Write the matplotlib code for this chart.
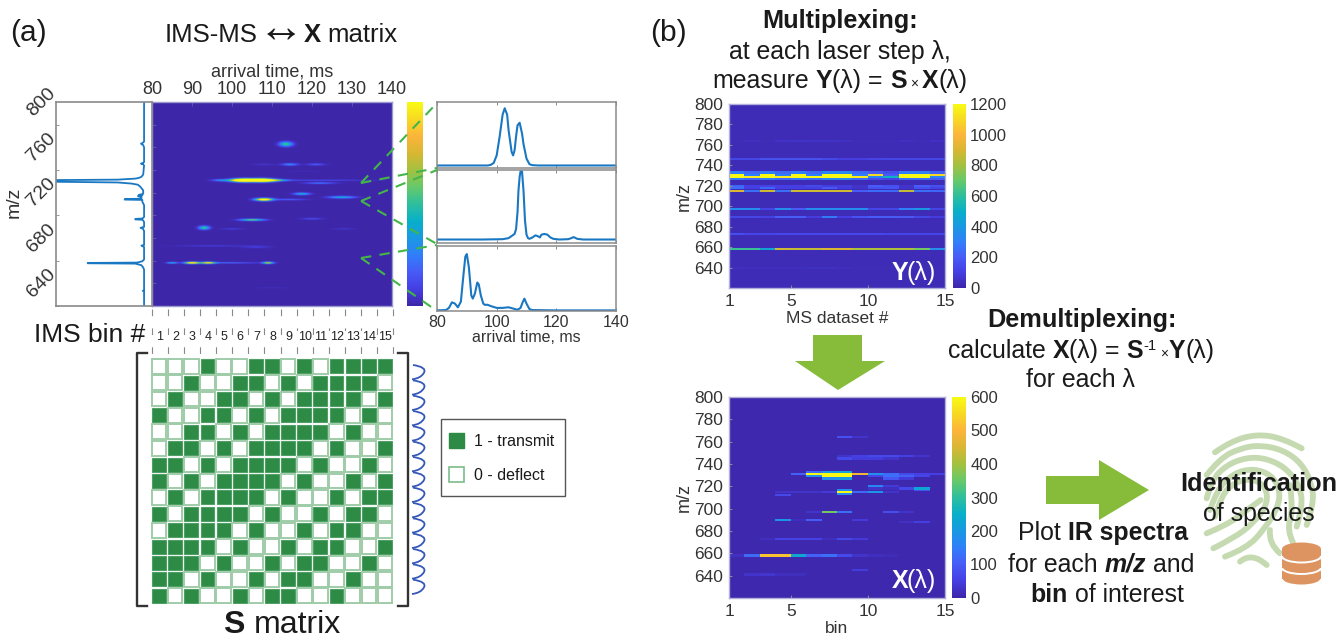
import numpy as np
import matplotlib
matplotlib.use('Agg')
import matplotlib.pyplot as plt
from matplotlib.colors import LinearSegmentedColormap
from matplotlib.patches import Rectangle, Polygon, PathPatch, Ellipse
from matplotlib.path import Path
from matplotlib.transforms import ScaledTranslation

plt.rcParams['font.family'] = ['Liberation Sans', 'DejaVu Sans']

W, H = 1338, 639

# ---------- data ----------
S_matrix = [
    [0,0,0,1,0,0,1,1,0,1,0,1,1,1,1],
    [0,0,1,0,0,1,1,0,1,0,1,1,1,1,0],
    [0,1,0,0,1,1,0,1,0,1,1,1,1,0,1],
    [1,0,0,1,1,0,1,0,1,1,1,1,0,1,0],
    [0,0,1,1,0,1,0,1,1,1,1,0,1,0,0],
    [0,1,1,0,1,0,1,1,1,1,0,1,0,0,1],
    [1,1,0,1,0,1,1,1,1,0,1,0,0,1,0],
    [1,0,1,0,1,1,1,1,0,1,0,0,1,0,1],
    [0,1,0,1,1,1,1,0,1,0,0,1,0,1,1],
    [1,0,1,1,1,1,0,1,0,0,1,0,1,1,0],
    [0,1,1,1,1,0,1,0,0,1,0,1,1,0,0],
    [1,1,1,1,0,1,0,0,1,0,1,1,0,0,1],
    [1,1,1,0,1,0,0,1,0,1,1,0,0,1,0],
    [1,1,0,1,0,0,1,0,1,1,0,0,1,0,0],
    [1,0,1,0,0,1,0,1,1,0,0,1,0,0,0],
]
bin_labels = [str(i) for i in range(1, 16)]

# IMS-MS map peaks: arrival time, m/z, amplitude, time width, m/z width
ims_peaks = [
    (103,731,2.1,2.0,.95),(107.5,731,2.1,1.9,.95),(97.5,731,.35,1.6,.6),(111,731,.55,2.0,.6),
    (122,731,.13,9,.4),(122,728.5,.25,2.5,.5),(113.5,763,.55,1.1,1.4),(114.5,745,.30,1.3,.7),
    (121,745,.18,1.5,.6),(108,745,.06,2,.5),(117.5,719,.45,1.3,.7),(127.5,716,.42,2.2,.7),
    (108,714,1.3,1.4,.8),(114,714,.18,3,.5),(105,696,.65,2,.6),(120,697,.14,1.8,.5),
    (93,689,.55,.9,1.1),(100,688,.09,1.8,.5),(128,688,.06,2,.5),(95,673,.09,6,.4),
    (106,672,.08,2.5,.7),(85,658,.45,.9,.5),(90,658,1.25,1.2,.6),(94,658,.95,1.2,.6),
    (99,658,.22,5,.4),(109,658,.8,.9,.6),(118,739,.02,3,.5),(110,636,.03,3,.5),
]

# Summed m/z profile (left panel): m/z, relative intensity
prof_pts = [(620,0),(633,0),(633.4,.015),(633.8,0),(652,0),(654,.01),(656,.03),(657.4,.10),(657.7,.64),(658.0,.64),(658.3,.08),
            (659.5,.02),(661,0),(672,0),(672.7,.015),(673.3,.03),(673.8,0),(686,0),(688,.01),(689,.04),(689.8,0),
            (694,0),(695.5,.01),(696.1,.02),(696.4,.10),(696.8,.10),(697.2,.02),(698.5,0),(709,0),(712,.02),(713.6,.02),(713.9,.22),
            (714.3,.22),(714.7,.03),(716,.03),(717,.07),(717.5,.02),(718,.06),(719,.01),(722,.01),(725,.04),(727,.07),(728,.14),
            (729,.30),(729.8,1.2),(731.0,1.2),(731.5,.30),(732.4,.10),(733,.06),(734,.03),(736,.01),(744,0),(745,.01),(745.6,.035),
            (746.3,.01),(747,0),(760,0),(762,.01),(763.2,.035),(764,.015),(765,0),(800,0)]
prof_mz = [p[0] for p in prof_pts]
prof_val = [p[1] for p in prof_pts]

# Right panels: arrival time and normalised intensity
tr_t1 = [80,90,97,98,99,100,101,102,102.7,103.5,104,105,105.5,106,106.5,107,107.7,108.5,109,110,111,112,114,125,140]
tr_v1 = [.04,.04,.04,.05,.08,.20,.50,.85,.95,.85,.60,.26,.20,.28,.50,.68,.72,.55,.38,.15,.06,.045,.04,.04,.04]
tr_t2 = [80,95,102,104,105,106,106.5,107,107.3,107.7,108,108.5,109,109.5,110,110.5,111,112,113,113.7,114.5,115,116,117,118,119,121,124,125,125.8,127,129,132,140]
tr_v2 = [.05,.05,.055,.07,.10,.13,.20,.45,.75,.95,1.03,1.03,.75,.32,.12,.07,.06,.08,.11,.10,.08,.12,.13,.12,.08,.06,.05,.055,.07,.085,.06,.05,.05,.05]
tr_t3 = [80,83,84,85,86,87,88,88.8,89.5,90,90.7,91.5,92,92.7,93.5,94,94.7,95.5,96,97,98,100,102,104,105.5,107,108,108.7,109.3,110,111,112,120,140]
tr_v3 = [.01,.015,.05,.14,.12,.06,.15,.55,.88,.92,.70,.25,.20,.28,.46,.43,.25,.12,.10,.10,.08,.05,.05,.06,.04,.02,.05,.14,.20,.12,.03,.015,.01,.01]

mz_rows_Y = [764,746,733,731,729,727,720,717.5,715,697,689,673,658.5,640]
Y_rows = [
    [30,45,30,55,60,55,55,50,30,30,30,45,30,50],
    [130,130,165,165,165,165,140,100,100,120,130,130,130,130],
    [300,240,300,240,300,240,340,340,240,200,150,300,300,220],
    [1350,300,1300,300,1300,300,1500,1500,300,1100,200,1300,1300,1100],
    [1350,1150,1300,1150,1300,1200,1500,1500,1150,320,520,1300,1300,320],
    [300,240,300,240,300,260,340,340,240,150,120,260,260,200],
    [230,100,110,100,100,140,90,90,60,200,160,60,210,160],
    [250,100,230,100,100,100,190,90,60,160,170,60,160,110],
    [900,260,880,260,880,880,880,880,210,250,240,860,260,230],
    [360,360,120,360,200,360,360,360,360,130,130,310,400,120],
    [130,130,110,210,210,90,290,100,170,200,200,190,130,90],
    [150,120,120,140,140,140,140,140,140,140,120,120,120,120],
    [620,620,450,880,860,860,900,900,820,820,820,820,720,360],
    [45,40,40,40,40,50,50,40,30,30,30,30,30,30],
]
mz_rows_X = [764,747,745,733,731,729,727,720,718,717,715,713,712,697,690,688,673,658,645,641]
X_rows = [
    [0,0,0,0,0,0,0,80,30,0,0,0,0,0],
    [0,0,0,0,0,0,0,30,50,70,70,50,30,0],
    [0,0,0,0,0,0,0,70,45,45,30,0,0,0],
    [0,0,0,0,0,120,200,220,0,0,0,0,0,0],
    [0,0,0,0,110,640,720,720,480,180,120,70,55,50],
    [0,0,0,0,0,180,700,720,0,60,130,110,60,0],
    [0,0,0,0,0,0,180,200,0,0,90,40,0,0],
    [0,0,0,0,0,0,0,0,0,170,40,0,0,0],
    [0,0,0,0,0,0,0,0,0,30,20,70,230,0],
    [0,0,0,0,0,0,0,180,0,0,0,0,80,0],
    [0,0,0,30,30,30,40,600,120,190,30,0,0,0],
    [0,0,0,0,0,0,0,170,0,0,0,0,0,0],
    [0,0,0,70,0,0,0,0,0,0,0,0,0,0],
    [0,0,0,0,0,30,360,130,0,0,75,30,0,0],
    [0,0,0,190,20,100,0,0,40,0,0,0,0,0],
    [0,0,0,0,0,0,0,0,0,0,0,25,50,0],
    [0,0,20,55,55,55,20,70,40,0,0,0,0,0],
    [25,120,520,520,230,110,130,70,30,20,15,0,0,0],
    [0,0,0,0,0,0,0,0,45,0,0,0,0,0],
    [0,30,35,20,20,0,0,0,0,0,0,0,0,0,],
]

# ---------- helpers ----------
parula_colors = [(0.2422,0.1504,0.6603),(0.2717,0.2470,0.8900),(0.2810,0.3600,0.9700),(0.1900,0.5000,0.9800),
                 (0.1000,0.6000,0.8900),(0.0300,0.6900,0.7900),(0.1800,0.7500,0.6200),(0.4000,0.7900,0.4200),
                 (0.6400,0.7600,0.2500),(0.8500,0.7200,0.2000),(0.9900,0.7100,0.2300),(0.9700,0.8500,0.1400),(0.9769,0.9839,0.0805)]
parula = LinearSegmentedColormap.from_list('parula', parula_colors)

fig = plt.figure(figsize=(W/100, H/100), dpi=100, facecolor='white')

def pax(x0, y0, x1, y1, **kw):
    return fig.add_axes([x0/W, 1-y1/H, (x1-x0)/W, (y1-y0)/H], **kw)

GR = '#8a8a8a'; TX = '#333333'
def style(ax, lw=1.0):
    for s in ax.spines.values():
        s.set_color(GR); s.set_linewidth(lw)
    ax.tick_params(colors=TX, color=GR, width=.7, length=3, direction='in')

ov = fig.add_axes([0, 0, 1, 1], zorder=10)
ov.set_xlim(0, W); ov.set_ylim(H, 0); ov.axis('off'); ov.patch.set_alpha(0)

def rich(xc, y, runs, size, color='#1a1a1a'):
    """Centred line made of runs of (text, weight, style[, size scale, raise])."""
    r = fig.canvas.get_renderer()
    items = []; total = 0
    for run in runs:
        s, wt, st = run[:3]
        sc = run[3] if len(run) > 3 else 1
        up = run[4] if len(run) > 4 else 0
        sp = size*sc*.278*100/72
        lead = sp if s.startswith(' ') else 0
        trail = sp if s.endswith(' ') else 0
        t = ov.text(0, y-up, s.strip(' '), fontsize=size*sc, fontweight=wt, fontstyle=st, va='baseline', ha='left', color=color, zorder=6)
        w = t.get_window_extent(r).width
        items.append((t, lead, w+trail)); total += lead+w+trail
    x = xc-total/2
    for t, lead, w in items:
        t.set_x(x+lead); x += lead+w

# ---------- panel (a) ----------
tt = np.linspace(80, 140, 480); mm = np.linspace(620, 800, 500)
T, M = np.meshgrid(tt, mm)
img = np.full_like(T, 0.0)
for (t0, m0, a, wt, wm) in ims_peaks:
    img += a*np.exp(-((T-t0)/wt)**2/2-((M-m0)/wm)**2/2)

A0, A1, AT, AB = 152, 392, 102, 306
ax = pax(A0, AT, A1, AB)
ax.imshow(img, origin='lower', aspect='auto', extent=[80,140,620,800], cmap=parula, vmin=0, vmax=1, interpolation='bilinear')
ax.set_xticks(range(80,141,10)); ax.set_yticks(range(620,801,20))
ax.xaxis.tick_top(); ax.tick_params(labelleft=False)
style(ax)
ax.tick_params(axis='x', labelsize=13, pad=3)
ax.tick_params(axis='both', color='#5a55b0')
ax.set_xlabel('arrival time, ms', fontsize=13, color=TX, labelpad=3); ax.xaxis.set_label_position('top')
for s in ax.spines.values(): s.set_color('#9a9ad0')

lp = pax(56, AT, A0, AB)
lp.plot(prof_val, prof_mz, color='#1a78c2', lw=1.3)
lp.set_xlim(1.0, -.09); lp.set_ylim(620, 800)
lp.set_xticks([]); lp.set_yticks(range(640,801,40))
lp.set_yticks(range(620,801,20), minor=True)
style(lp, 1.2)
lp.tick_params(axis='y', labelsize=14, pad=0, length=0)
lp.tick_params(axis='y', which='minor', color=GR, length=2, direction='in')
label_shift = ScaledTranslation(-15/100, 0, fig.dpi_scale_trans)
for l in lp.get_yticklabels():
    l.set_rotation(45); l.set_va('center'); l.set_ha('center')
    l.set_transform(l.get_transform()+label_shift)
ov.text(14, 202, 'm/z', fontsize=14, rotation=90, ha='center', va='center', color=TX)

cb = pax(407, AT, 423, AB)
cb.imshow(np.linspace(1,0,256)[:,None], aspect='auto', cmap=parula)
cb.set_xticks([]); cb.set_yticks([])
for s in cb.spines.values(): s.set_visible(False)

pan_y = [(102,168),(170,243),(246,311)]
for i, ((t, v), (y0, y1)) in enumerate(zip([(tr_t1,tr_v1),(tr_t2,tr_v2),(tr_t3,tr_v3)], pan_y)):
    a = pax(437, y0, 616, y1)
    a.plot(t, v, color='#1a78c2', lw=1.5)
    a.set_xlim(80,140); a.set_ylim(0,1.05)
    a.set_xticks([80,100,120,140]); a.set_yticks([])
    style(a, 1.1)
    a.tick_params(axis='x', top=True, labelbottom=(i==2), labelsize=11.5, pad=3, length=2)
    if i==2:
        a.set_xlabel('arrival time, ms', fontsize=11.5, color=TX, labelpad=0)

dash_lines = [((361,183),(437,103)),((361,183),(437,168)),((361,201),(437,170)),((361,201),(437,244)),
              ((361,258),(437,245)),((361,258),(437,311))]
for p, q in dash_lines:
    ov.plot([p[0],q[0]],[p[1],q[1]],color='#43b549',lw=1.5,dashes=(5,4))

# bin ticks (dashed verticals)
edges_x = np.linspace(152, 393, 16)
for x in edges_x:
    ov.plot([x,x],[309,355],color='#888888',lw=.8,dashes=(6,11))
for i, s in enumerate(bin_labels):
    ov.text((edges_x[i]+edges_x[i+1])/2, 337, s, fontsize=9, ha='center', va='center', color='#222222',
            bbox=dict(fc='white', ec='none', pad=.4))

ov.text(90, 335, 'IMS bin #', fontsize=19, ha='center', va='center', color='#1a1a1a')
ov.text(10, 41, '(a)', fontsize=21.5, ha='left', va='baseline', color='#1a1a1a')
ov.text(650, 41, '(b)', fontsize=21.5, ha='left', va='baseline', color='#1a1a1a')

rich(281, 42, [('IMS-MS', 'normal', 'normal'), ('↔', 'normal', 'normal', 1.8), ('X ', 'bold', 'normal'), ('matrix', 'normal', 'normal')], 18.5)

# S matrix
sm = pax(151, 358, 393, 604)
sm.set_xlim(0,15); sm.set_ylim(15,0); sm.axis('off')
for r, row in enumerate(S_matrix):
    for c, val in enumerate(row):
        if val:
            sm.add_patch(Rectangle((c+.07,r+.07),.86,.86,fc='#2e8b45',ec='#4f9f66',lw=.8))
        else:
            sm.add_patch(Rectangle((c+.05,r+.05),.9,.9,fc='white',ec='#9fcca8',lw=1.4))

ov.plot([147,137,137,147],[353,353,606,606],color='#333333',lw=1.7)
ov.plot([398,408,408,398],[353,353,606,606],color='#333333',lw=1.7)
wy = np.linspace(365, 595, 16)
for a0, a1 in zip(wy[:-1], wy[1:]):
    m = (a0+a1)/2
    ov.add_patch(PathPatch(Path([(413,a0),(427,a0+2),(424,m),(421,a1-2),(412,a1-1)],
                                [Path.MOVETO,Path.CURVE3,Path.CURVE3,Path.CURVE3,Path.CURVE3]),
                           fc='none',ec='#3558b8',lw=1.3))
rich(282, 633, [('S ', 'bold', 'normal'), ('matrix', 'normal', 'normal')], 23)

# legend
ov.add_patch(Rectangle((441,419),124,77,fc='white',ec='#555555',lw=1))
ov.add_patch(Rectangle((449,433),15,15,fc='#2e8b45',ec='#2e8b45',lw=1))
ov.add_patch(Rectangle((449,467),15,15,fc='white',ec='#7dbb8a',lw=1.2))
ov.text(474, 441, '1 - transmit', fontsize=11.5, va='center', color='#1a1a1a')
ov.text(474, 475, '0 - deflect', fontsize=11.5, va='center', color='#1a1a1a')

# ---------- panel (b) ----------
def stripes(mz_rows, rows, base):
    grid = np.full((180,14), float(base))
    for m, row in zip(mz_rows, rows):
        idx = int(round(m-620))
        grid[idx-1:idx+1] = np.maximum(grid[idx-1:idx+1], row)
    return grid

def heat(y0, y1, grid, vmax, cticks, xlabel, cx0):
    a = pax(729, y0, 945, y1)
    a.imshow(grid, origin='lower', aspect='auto', extent=[1,15,620,800], cmap=parula, vmin=0, vmax=vmax, interpolation='nearest')
    a.set_xticks([1,5,10,15]); a.set_yticks(range(640,801,20))
    style(a); a.tick_params(labelsize=12.5, pad=4, length=2)
    for s in a.spines.values(): s.set_color('#b0b0d8')
    a.set_xlabel(xlabel, fontsize=12.5, color=TX, labelpad=2)
    a.set_ylabel('m/z', fontsize=13, color=TX, labelpad=1)
    c = pax(cx0, y0, 966, y1)
    c.imshow(np.linspace(vmax,0,256)[:,None], aspect='auto', cmap=parula, extent=[0,1,0,vmax], vmin=0, vmax=vmax)
    c.set_xticks([]); c.yaxis.tick_right(); c.set_yticks(list(cticks))
    c.tick_params(labelsize=12, length=0, pad=3, colors=TX)
    for s in c.spines.values(): s.set_visible(False)
    return a

ay = heat(104, 288, stripes(mz_rows_Y, Y_rows, 28), 1200, range(0,1201,200), 'MS dataset #', 953)
ax2 = heat(397, 598, stripes(mz_rows_X, X_rows, 6), 600, range(0,601,100), 'bin', 952)

def tag(xr, y, s):
    ov.text(xr, y, '(λ)', fontsize=18, color='white', ha='right', va='baseline')
    ov.text(xr-28, y, s, fontsize=18, color='white', fontweight='bold', ha='right', va='baseline')
tag(936, 280, 'Y'); tag(936, 588, 'X')

rich(840, 28, [('Multiplexing:', 'bold', 'normal')], 18.2)
rich(840, 59, [('at each laser step λ,', 'normal', 'normal')], 17.9)
rich(840, 88, [('measure ', 'normal','normal'),('Y','bold','normal'),('(λ) = ','normal','normal'),('S','bold','normal'),
               (' × ','normal','normal',.55),('X','bold','normal'),('(λ)','normal','normal')], 17.9)
rich(1082, 327, [('Demultiplexing:', 'bold', 'normal')], 18.2)
rich(1081, 358, [('calculate ','normal','normal'),('X','bold','normal'),('(λ) = ','normal','normal'),('S','bold','normal'),
                 ('-1 ','normal','normal',.6,8),('×','normal','normal',.55),('Y','bold','normal'),('(λ)','normal','normal')], 17.9)
rich(1081, 387, [('for each λ','normal','normal')], 17.9)
rich(1103, 540, [('Plot ','normal','normal'),('IR spectra','bold','normal')], 17.9)
rich(1101, 572, [('for each ','normal','normal'),('m/z','bold','italic'),(' and','normal','normal')], 17.9)
rich(1107, 602, [('bin','bold','normal'),(' of interest','normal','normal')], 17.9)

# arrows
GA = '#86bc3a'
ov.add_patch(Polygon([(813,335),(862,335),(862,361),(885,361),(838,390),(795,361),(813,361)],fc=GA,ec='none'))
ov.add_patch(Polygon([(1046,476),(1099,476),(1099,460),(1149,490),(1099,520),(1099,504),(1046,504)],fc=GA,ec='none'))

# fingerprint strokes
FP = '#c6dab2'
fp_strokes = [
    [(75,97),(120,65),(200,42),(280,55),(335,85)],
    [(50,165),(90,115),(150,85),(210,75),(280,90),(335,130),(365,190),(372,250),(350,315)],
    [(50,235),(65,180),(110,135),(170,112),(230,115),(290,145),(330,200),(338,260),(320,320)],
    [(50,340),(110,315),(165,275),(212,240)],
    [(70,385),(130,355),(190,310),(235,250),(225,195),(180,175),(130,190),(95,225),(75,290)],
    [(105,410),(170,385),(225,325),(265,260),(270,210),(245,165),(190,145),(130,160),(80,210),(60,270)],
    [(150,425),(185,395),(230,435)],
    [(240,330),(235,370),(270,400)],
    [(300,195),(310,270),(290,330),(310,370)],
]
for st in fp_strokes:
    pts = [(1190+px/3, 420+py/3) for px, py in st]
    verts = [pts[0]]; codes = [Path.MOVETO]
    for i in range(1, len(pts)-1):
        nxt = pts[i+1] if i == len(pts)-2 else ((pts[i][0]+pts[i+1][0])/2, (pts[i][1]+pts[i+1][1])/2)
        verts += [pts[i], nxt]; codes += [Path.CURVE3, Path.CURVE3]
    ov.add_patch(PathPatch(Path(verts, codes), fc='none', ec=FP, lw=4.2, capstyle='round', zorder=1))
rich(1259, 491, [('Identification','bold','normal')], 18.2)
rich(1259, 521, [('of species','normal','normal')], 17.9)

# coins
CC = '#dd9460'
for yc in [572, 560.5, 549]:
    ov.add_patch(Ellipse((1301.5,yc+7),39,13,fc=CC,ec='white',lw=1.4,zorder=3))
    ov.add_patch(Rectangle((1282,yc),39,7,fc=CC,ec='none',zorder=3))
    ov.add_patch(Ellipse((1301.5,yc),39,13,fc=CC,ec='none',zorder=3))

fig.savefig('out.png', dpi=100)
